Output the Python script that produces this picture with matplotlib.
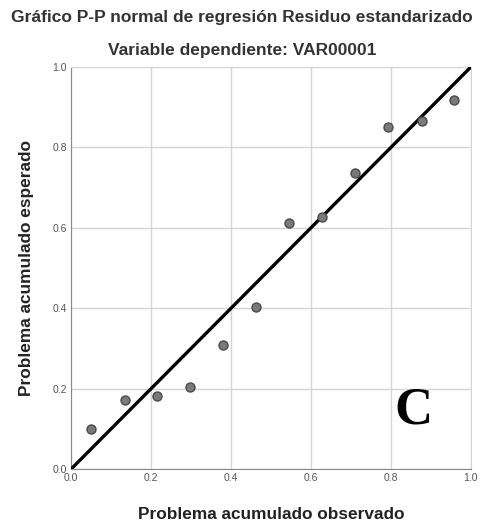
import numpy as np
import matplotlib.pyplot as plt

observed = [0.05, 0.134, 0.215, 0.297, 0.38, 0.462, 0.545, 0.627, 0.71, 0.793, 0.877, 0.957]
expected = [0.10, 0.172, 0.182, 0.204, 0.308, 0.404, 0.613, 0.628, 0.736, 0.850, 0.866, 0.918]
ticks = [0.0, 0.2, 0.4, 0.6, 0.8, 1.0]
tick_labels = ["0.0", "0.2", "0.4", "0.6", "0.8", "1.0"]

plt.rcParams['font.family'] = ['Liberation Sans', 'DejaVu Sans']

fig = plt.figure(figsize=(4.84, 5.27), dpi=100)
ax = fig.add_axes([0.147, 0.110, 0.826, 0.763])

ax.grid(True, color="#d4d4d4", linewidth=1)
ax.set_axisbelow(True)
ax.plot([0, 1], [0, 1], color="black", linewidth=2.4, zorder=3)
ax.scatter(observed, expected, s=42, color="#7a7a7a", edgecolors="#4a4a4a", linewidths=1, zorder=4)

ax.set_xlim(0, 1)
ax.set_ylim(0, 1)
ax.set_xticks(ticks)
ax.set_xticklabels(tick_labels)
ax.set_yticks(ticks)
ax.set_yticklabels(tick_labels)
ax.tick_params(length=0, labelsize=7.5, labelcolor="#555555", pad=3)
for side in ["top", "right"]:
    ax.spines[side].set_color("#d4d4d4")
for side in ["left", "bottom"]:
    ax.spines[side].set_color("#888888")

ax.set_xlabel("Problema acumulado observado", fontsize=12.4, fontweight="bold", color="#222222", labelpad=17)
ax.set_ylabel("Problema acumulado esperado", fontsize=12.4, fontweight="bold", color="#222222", labelpad=13)

fig.text(0.5, 0.967, "Gráfico P-P normal de regresión Residuo estandarizado",
         ha="center", va="center", fontsize=12.5, fontweight="bold", color="#333333")
fig.text(0.5, 0.905, "Variable dependiente: VAR00001",
         ha="center", va="center", fontsize=12.5, fontweight="bold", color="#333333")

ax.text(0.855, 0.145, "C", transform=ax.transAxes, ha="center", va="center",
        fontsize=38, fontweight="bold", family="Liberation Serif", color="black")

plt.savefig("out.png", dpi=100)
